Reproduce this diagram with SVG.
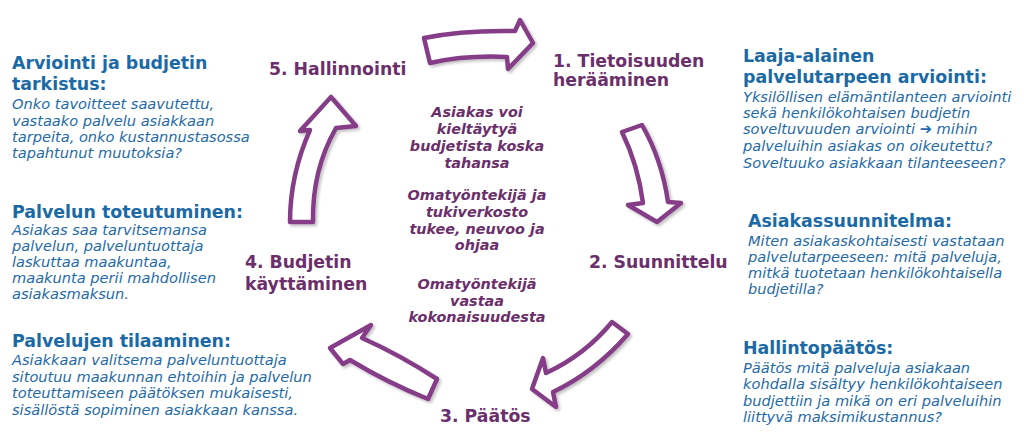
<svg xmlns="http://www.w3.org/2000/svg" width="1024" height="441" viewBox="0 0 1024 441">
<defs>
<style>
.h{font-family:"DejaVu Sans","Liberation Sans",sans-serif;font-weight:bold;font-size:17.4px;fill:#1b6aa5}
.b{font-family:"DejaVu Sans","Liberation Sans",sans-serif;font-style:italic;font-size:14.6px;fill:#1f6aa8}
.s{font-family:"DejaVu Sans","Liberation Sans",sans-serif;font-weight:bold;font-size:17.3px;fill:#6b2f6b}
.c{font-family:"DejaVu Sans","Liberation Sans",sans-serif;font-weight:bold;font-style:italic;font-size:14.4px;fill:#6b2f6b;text-anchor:middle}
.arr{fill:#ffffff;stroke:#853d88;stroke-width:4.5;stroke-linejoin:round;filter:url(#sh)}
</style>
<filter id="sh" x="-20%" y="-20%" width="140%" height="140%">
<feGaussianBlur in="SourceAlpha" stdDeviation="1.5"/>
<feOffset dx="2" dy="2" result="o"/>
<feComponentTransfer><feFuncA type="linear" slope="0.25"/></feComponentTransfer>
<feMerge><feMergeNode/><feMergeNode in="SourceGraphic"/></feMerge>
</filter>
</defs>
<rect width="1024" height="441" fill="#ffffff"/>

<g id="connectors">
<path class="arr" d="M424,38 Q462,30 515,31 L520,20 L533,43 L508,69 L507,57 Q466,55 430,63 Z"/>
<path class="arr" d="M622,132 L642,125 Q662,160 668,202 L681,203 L657,222 L628,205 L643,203 Q638,165 622,132 Z"/>
<path class="arr" d="M612,322 L628,334 Q595,372 553,392 L556,407 L532,389 L543,358 L546,373 Q585,355 612,322 Z"/>
<path class="arr" d="M330,348 L371,325 L362,338 Q400,355 437,379 L428,399 Q388,383 350,360 L343,364 Z"/>
<path class="arr" d="M290,222 L313,222 Q312,170 336,128 L356,126 L331,97 L300,131 L310,130 Q290,175 290,222 Z"/>
</g>

<g id="step1">
<text class="s" x="553" y="67">1. Tietoisuuden</text>
<text class="s" x="553" y="86">herääminen</text>
</g>
<g id="step2">
<text class="s" x="589" y="268">2. Suunnittelu</text>
</g>
<g id="step3">
<text class="s" x="440" y="422">3. Päätös</text>
</g>
<g id="step4">
<text class="s" x="245" y="268">4. Budjetin</text>
<text class="s" x="245" y="290">käyttäminen</text>
</g>
<g id="step5">
<text class="s" x="269" y="75">5. Hallinnointi</text>
</g>

<g id="center">
<text class="c" x="477" y="117">Asiakas voi</text>
<text class="c" x="477" y="134">kieltäytyä</text>
<text class="c" x="477" y="151">budjetista koska</text>
<text class="c" x="477" y="168">tahansa</text>
<text class="c" x="477" y="200">Omatyöntekijä ja</text>
<text class="c" x="477" y="217">tukiverkosto</text>
<text class="c" x="477" y="234">tukee, neuvoo ja</text>
<text class="c" x="477" y="250">ohjaa</text>
<text class="c" x="477" y="289">Omatyöntekijä</text>
<text class="c" x="477" y="306">vastaa</text>
<text class="c" x="477" y="322">kokonaisuudesta</text>
</g>

<g id="info-arviointi">
<text class="h" x="12" y="69">Arviointi ja budjetin</text>
<text class="h" x="12" y="90">tarkistus:</text>
<text class="b" x="12" y="109">Onko tavoitteet saavutettu,</text>
<text class="b" x="12" y="126">vastaako palvelu asiakkaan</text>
<text class="b" x="12" y="142">tarpeita, onko kustannustasossa</text>
<text class="b" x="12" y="158">tapahtunut muutoksia?</text>
</g>

<g id="info-toteutuminen">
<text class="h" x="12" y="218">Palvelun toteutuminen:</text>
<text class="b" x="12" y="235">Asiakas saa tarvitsemansa</text>
<text class="b" x="12" y="251">palvelun, palveluntuottaja</text>
<text class="b" x="12" y="267">laskuttaa maakuntaa,</text>
<text class="b" x="12" y="283">maakunta perii mahdollisen</text>
<text class="b" x="12" y="299">asiakasmaksun.</text>
</g>

<g id="info-tilaaminen">
<text class="h" x="12" y="347">Palvelujen tilaaminen:</text>
<text class="b" x="12" y="365">Asiakkaan valitsema palveluntuottaja</text>
<text class="b" x="12" y="382">sitoutuu maakunnan ehtoihin ja palvelun</text>
<text class="b" x="12" y="398">toteuttamiseen päätöksen mukaisesti,</text>
<text class="b" x="12" y="415">sisällöstä sopiminen asiakkaan kanssa.</text>
</g>

<g id="info-arviointi-laaja">
<text class="h" x="743" y="62">Laaja-alainen</text>
<text class="h" x="743" y="83">palvelutarpeen arviointi:</text>
<text class="b" x="743" y="102">Yksilöllisen elämäntilanteen arviointi</text>
<text class="b" x="743" y="118">sekä henkilökohtaisen budjetin</text>
<text class="b" x="743" y="134">soveltuvuuden arviointi <tspan font-style="normal" font-weight="bold">➔</tspan> mihin</text>
<text class="b" x="743" y="151">palveluihin asiakas on oikeutettu?</text>
<text class="b" x="743" y="168">Soveltuuko asiakkaan tilanteeseen?</text>
</g>

<g id="info-suunnitelma">
<text class="h" x="748" y="227">Asiakassuunnitelma:</text>
<text class="b" x="748" y="246">Miten asiakaskohtaisesti vastataan</text>
<text class="b" x="748" y="262">palvelutarpeeseen: mitä palveluja,</text>
<text class="b" x="748" y="278">mitkä tuotetaan henkilökohtaisella</text>
<text class="b" x="748" y="294">budjetilla?</text>
</g>

<g id="info-paatos">
<text class="h" x="743" y="354">Hallintopäätös:</text>
<text class="b" x="743" y="373">Päätös mitä palveluja asiakaan</text>
<text class="b" x="743" y="389">kohdalla sisältyy henkilökohtaiseen</text>
<text class="b" x="743" y="406">budjettiin ja mikä on eri palveluihin</text>
<text class="b" x="743" y="422">liittyvä maksimikustannus?</text>
</g>
</svg>
